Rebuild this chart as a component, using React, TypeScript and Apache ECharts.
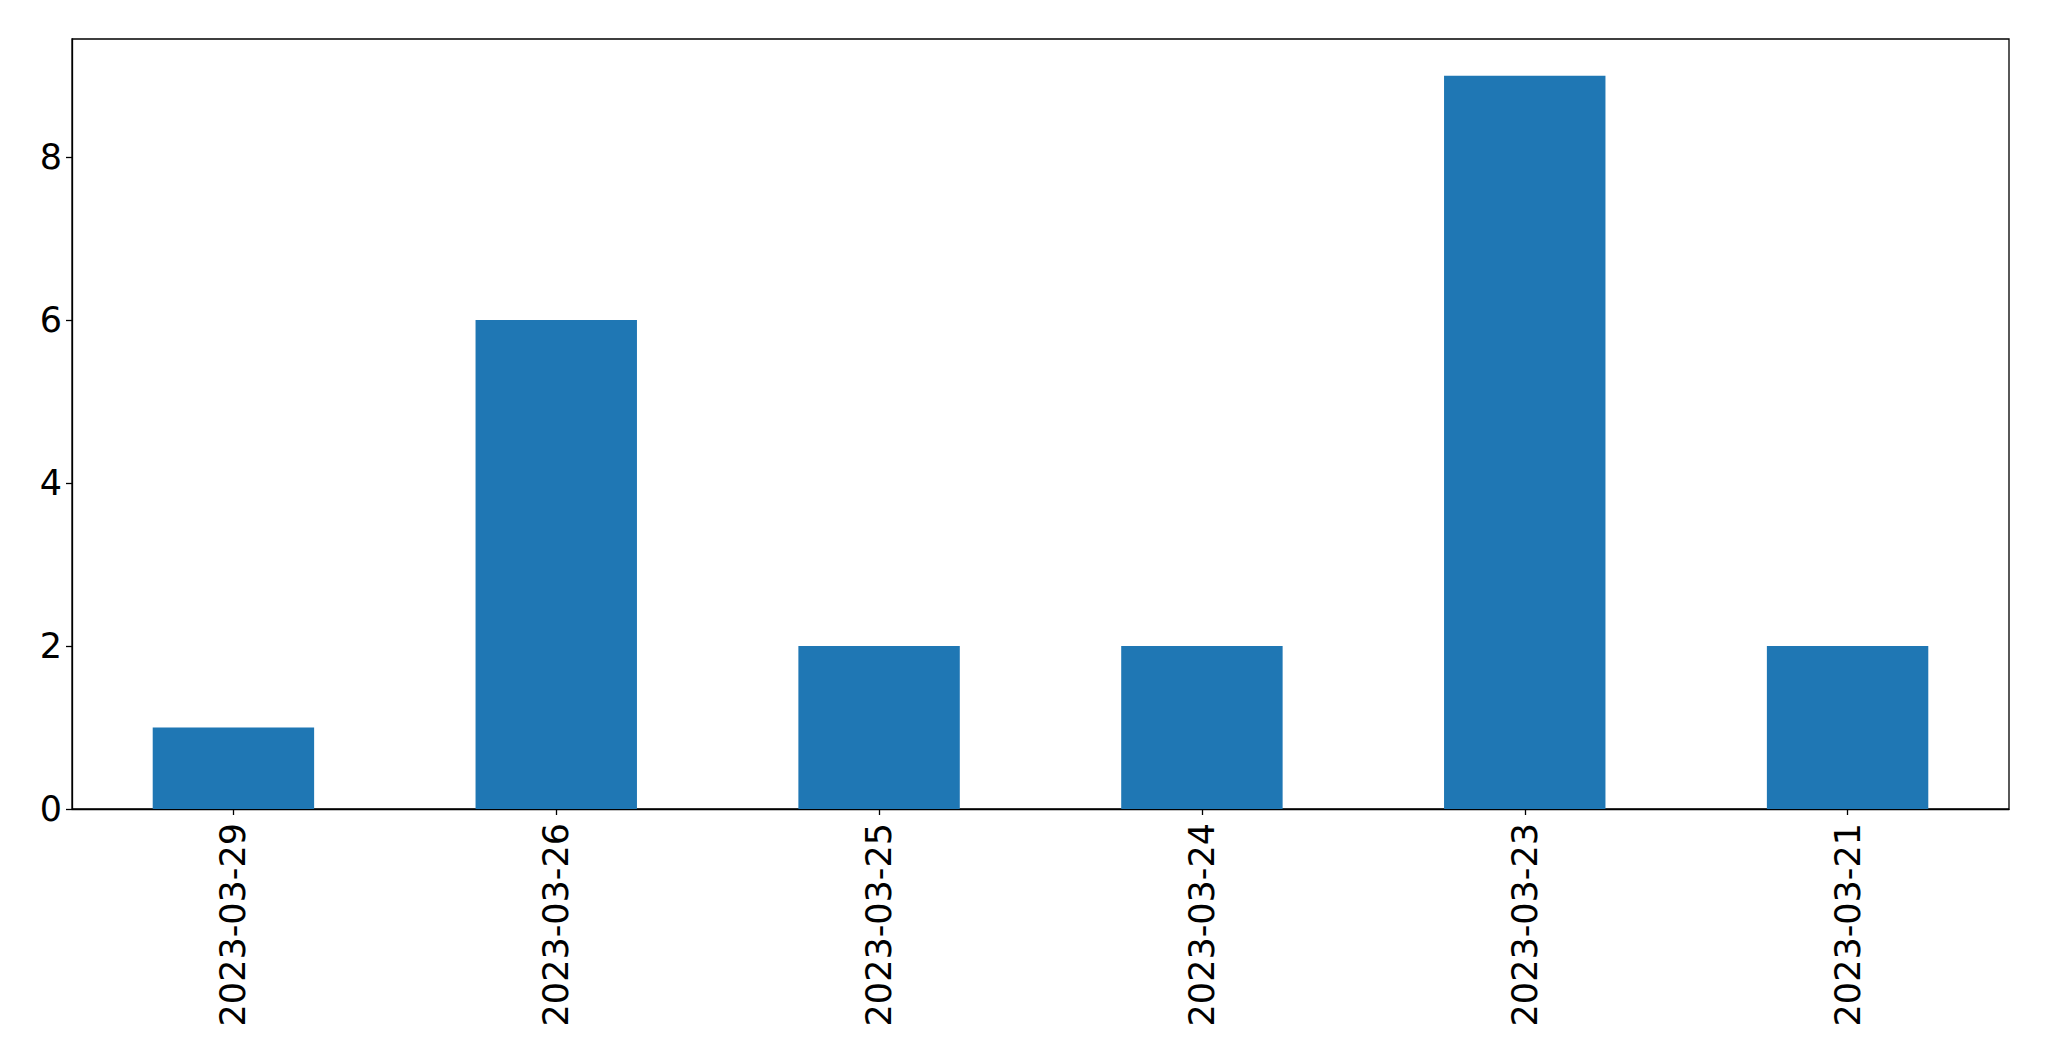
import React, { useEffect, useRef } from "react";
import * as echarts from "echarts";

const categories = ["2023-03-29", "2023-03-26", "2023-03-25", "2023-03-24", "2023-03-23", "2023-03-21"];
const values = [1, 6, 2, 2, 9, 2];
const yTicks = [0, 2, 4, 6, 8];

export default function App() {
  const ref = useRef<HTMLDivElement>(null);
  useEffect(() => {
    if (!ref.current) return;
    const chart = echarts.init(ref.current, null, { renderer: "svg" });
    const font = "DejaVu Sans";
    chart.setOption({
      animation: false,
      backgroundColor: "#ffffff",
      grid: {
        left: 72,
        top: 39,
        right: 40,
        bottom: 252,
        show: true,
        borderColor: "#000000",
        borderWidth: 1.3,
        containLabel: false,
      },
      xAxis: {
        type: "category",
        data: categories,
        boundaryGap: true,
        axisLine: { show: true, lineStyle: { color: "#000000", width: 1.3 } },
        axisTick: { show: true, alignWithLabel: true, length: 6, lineStyle: { color: "#000000", width: 1.3 } },
        axisLabel: {
          rotate: 90,
          interval: 0,
          margin: 14,
          color: "#000000",
          fontFamily: font,
          fontSize: 35,
        },
        splitLine: { show: false },
      },
      yAxis: {
        type: "value",
        min: 0,
        max: 9.45,
        interval: 2,
        axisLine: { show: true, lineStyle: { color: "#000000", width: 1.3 } },
        axisTick: { show: true, length: 6, lineStyle: { color: "#000000", width: 1.3 }, customValues: yTicks },
        axisLabel: {
          margin: 10,
          color: "#000000",
          fontFamily: font,
          fontSize: 35,
          customValues: yTicks,
        },
        splitLine: { show: false },
      },
      series: [
        {
          type: "bar",
          data: values,
          barWidth: "50%",
          itemStyle: { color: "#1f77b4" },
        },
      ],
    });
    return () => chart.dispose();
  }, []);
  return (
    <div
      ref={ref}
      style={{ position: "fixed", left: 0, top: 0, width: 2049, height: 1061, background: "#fff" }}
    />
  );
}
